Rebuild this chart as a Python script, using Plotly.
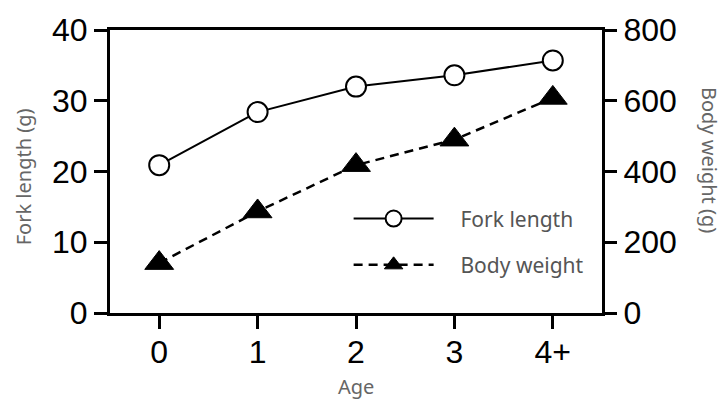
import plotly.graph_objects as go

ages = ["0", "1", "2", "3", "4+"]
fork_length = [20.9, 28.4, 32.0, 33.6, 35.7]
body_weight = [141, 287, 418, 490, 608]

y_ticks = [0, 10, 20, 30, 40]
y2_ticks = [0, 200, 400, 600, 800]

tick_font = dict(family="Liberation Sans, Arial, sans-serif", size=32, color="black")
title_font = dict(family="Noto Sans, sans-serif", size=20, color="#666666")

NB = "\u00a0"

fig = go.Figure()
fig.add_trace(go.Scatter(
    x=ages, y=fork_length, name=NB * 4 + "Fork length", mode="lines+markers",
    line=dict(color="black", width=2),
    marker=dict(symbol="circle", size=20, color="white", line=dict(color="black", width=2)),
    legendgroup="a",
))
fig.add_trace(go.Scatter(
    x=ages, y=body_weight, name=NB * 4 + "Body weight", mode="lines+markers", yaxis="y2",
    line=dict(color="black", width=2.5, dash="9px,6px"),
    marker=dict(symbol="triangle-up", size=25, color="black", line=dict(color="black", width=1)),
    legendgroup="b",
))

fig.update_layout(
    width=724, height=400,
    margin=dict(l=110, r=122, t=26, b=87),
    paper_bgcolor="white", plot_bgcolor="white",
    showlegend=True,
    legend=dict(
        x=0.485, y=0.405, xanchor="left", yanchor="top",
        bgcolor="rgba(255,255,255,0)",
        font=dict(family="Noto Sans, sans-serif", size=21, color="#555555"),
        itemwidth=80, tracegroupgap=16,
    ),
    xaxis=dict(
        type="category", range=[-0.5, 4.5],
        showline=True, linecolor="black", linewidth=3, mirror=True,
        ticks="outside", ticklen=13, tickwidth=2.5, tickcolor="black",
        tickfont=tick_font, showgrid=False, zeroline=False,
        ticklabelstandoff=-4,
    ),
    yaxis=dict(
        range=[0, 40], tickvals=y_ticks,
        showline=True, linecolor="black", linewidth=3,
        ticks="outside", ticklen=13, tickwidth=3, tickcolor="black",
        tickfont=tick_font, showgrid=False, zeroline=False,
    ),
    yaxis2=dict(
        range=[0, 800], tickvals=y2_ticks, overlaying="y", side="right",
        showline=True, linecolor="black", linewidth=3,
        ticks="outside", ticklen=12, tickwidth=3, tickcolor="black",
        tickfont=tick_font, showgrid=False, zeroline=False,
    ),
    annotations=[
        dict(text="Age", xref="paper", yref="paper", x=0.5, y=-0.258, yanchor="middle",
             showarrow=False, font=title_font),
        dict(text="Fork length (g)", xref="paper", yref="paper", x=-0.176, y=0.481,
             xanchor="center", yanchor="middle", textangle=-90, showarrow=False, font=title_font),
        dict(text="Body weight (g)", xref="paper", yref="paper", x=1.22, y=0.54,
             xanchor="center", yanchor="middle", textangle=90, showarrow=False, font=title_font),
    ],
)

fig.write_html(
    "out.html",
    config={"displayModeBar": False},
    post_script="document.body.style.margin='0';document.body.style.padding='0';document.body.style.overflow='hidden';",
)
